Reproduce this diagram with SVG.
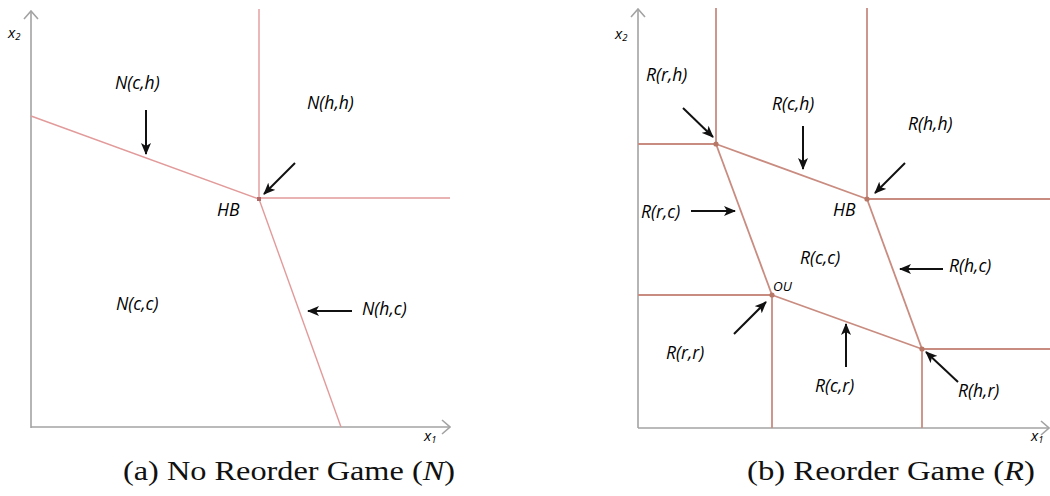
<svg xmlns="http://www.w3.org/2000/svg" width="1050" height="496" viewBox="0 0 1050 496">
<style>
.ax{stroke:#a3a3a3;stroke-width:1.6;fill:none}
.ra{stroke:#e29a9a;stroke-width:1.4;fill:none}
.rb{stroke:#c98c80;stroke-width:1.8;fill:none}
.ar{stroke:#111;stroke-width:2;fill:none;marker-end:url(#ah)}
.lb{font-family:"Open Sans","Liberation Sans",sans-serif;font-style:italic;font-size:17.5px;fill:#000}
.sm{font-family:"Open Sans","Liberation Sans",sans-serif;font-style:italic;font-size:13.5px;fill:#000}
.xl{font-family:"Open Sans","Liberation Sans",sans-serif;font-style:italic;font-size:15px;fill:#000}
.cap{font-family:"Liberation Serif","DejaVu Serif",serif;font-size:27px;fill:#111}
</style>
<defs>
<marker id="ah" viewBox="0 0 12 10" refX="11" refY="5" markerWidth="12" markerHeight="10" markerUnits="userSpaceOnUse" orient="auto">
<path d="M0,0 L12,5 L0,10 L3,5 Z" fill="#111"/>
</marker>
<marker id="ax" viewBox="0 0 10 16" refX="9" refY="8" markerWidth="10" markerHeight="16" markerUnits="userSpaceOnUse" orient="auto">
<path d="M1,1 L9,8 L1,15" stroke="#a3a3a3" stroke-width="1.6" fill="none"/>
</marker>
</defs>
<rect width="1050" height="496" fill="#fff"/>

<!-- Panel (a) -->
<g id="axes-a">
<line class="ax" x1="31" y1="428" x2="31" y2="11" marker-end="url(#ax)"/>
<line class="ax" x1="31" y1="427" x2="450" y2="427" marker-end="url(#ax)"/>
<text class="xl" x="8" y="38">x<tspan font-size="9.5" dy="2">2</tspan></text>
<text class="xl" x="424" y="441">x<tspan font-size="9.5" dy="2">1</tspan></text>
</g>
<g id="boundaries-a">
<line class="ra" x1="31" y1="116" x2="259" y2="199"/>
<line class="ra" x1="259" y1="9" x2="259" y2="199"/>
<line class="ra" x1="259" y1="198" x2="450" y2="198"/>
<line class="ra" x1="259" y1="199" x2="341" y2="427"/>
<rect x="257" y="197" width="4" height="4" fill="#b06a6a"/>
</g>
<g id="N-ch"><text class="lb" x="115" y="89">N(c,h)</text></g>
<g id="N-hh"><text class="lb" x="307" y="109">N(h,h)</text></g>
<g id="HB-a"><text class="lb" x="217" y="216">HB</text></g>
<g id="N-cc"><text class="lb" x="116" y="310">N(c,c)</text></g>
<g id="N-hc"><text class="lb" x="362" y="315">N(h,c)</text></g>
<g id="arrows-a">
<line class="ar" x1="146" y1="110" x2="146" y2="154"/>
<line class="ar" x1="295" y1="163" x2="264" y2="194"/>
<line class="ar" x1="352" y1="311" x2="308" y2="311"/>
</g>
<text class="cap" x="123" y="480" textLength="332" lengthAdjust="spacingAndGlyphs">(a) No Reorder Game (<tspan font-style="italic">N</tspan>)</text>

<!-- Panel (b) -->
<g id="axes-b">
<line class="ax" x1="638" y1="428" x2="638" y2="9" marker-end="url(#ax)"/>
<line class="ax" x1="638" y1="428" x2="1049" y2="428" marker-end="url(#ax)"/>
<text class="xl" x="615" y="39">x<tspan font-size="9.5" dy="2">2</tspan></text>
<text class="xl" x="1031" y="441">x<tspan font-size="9.5" dy="2">1</tspan></text>
</g>
<g id="boundaries-b">
<line class="rb" x1="716" y1="8" x2="716" y2="144"/>
<line class="rb" x1="638" y1="144" x2="716" y2="144"/>
<line class="rb" x1="867" y1="8" x2="867" y2="199"/>
<line class="rb" x1="867" y1="199" x2="1050" y2="199"/>
<line class="rb" x1="638" y1="295" x2="772" y2="295"/>
<line class="rb" x1="772" y1="295" x2="772" y2="428"/>
<line class="rb" x1="922" y1="349" x2="1050" y2="349"/>
<line class="rb" x1="922" y1="349" x2="922" y2="428"/>
<line class="rb" x1="716" y1="144" x2="867" y2="199"/>
<line class="rb" x1="716" y1="144" x2="772" y2="295"/>
<line class="rb" x1="772" y1="295" x2="922" y2="349"/>
<line class="rb" x1="867" y1="199" x2="922" y2="349"/>
<circle cx="716" cy="144" r="2.6" fill="#b87868"/>
<circle cx="867" cy="199" r="2.6" fill="#b87868"/>
<circle cx="772" cy="295" r="2.6" fill="#b87868"/>
<circle cx="922" cy="349" r="2.6" fill="#b87868"/>
</g>
<g id="R-rh"><text class="lb" x="646" y="81">R(r,h)</text></g>
<g id="R-ch"><text class="lb" x="772" y="110">R(c,h)</text></g>
<g id="R-hh"><text class="lb" x="908" y="130">R(h,h)</text></g>
<g id="R-rc"><text class="lb" x="641" y="218">R(r,c)</text></g>
<g id="HB-b"><text class="lb" x="833" y="216">HB</text></g>
<g id="R-cc"><text class="lb" x="800" y="264">R(c,c)</text></g>
<g id="R-hc"><text class="lb" x="949" y="272">R(h,c)</text></g>
<g id="OU"><text class="sm" x="773" y="291">OU</text></g>
<g id="R-rr"><text class="lb" x="666" y="359">R(r,r)</text></g>
<g id="R-cr"><text class="lb" x="815" y="392">R(c,r)</text></g>
<g id="R-hr"><text class="lb" x="958" y="397">R(h,r)</text></g>
<g id="arrows-b">
<line class="ar" x1="683" y1="108" x2="713" y2="137"/>
<line class="ar" x1="803" y1="126" x2="803" y2="169"/>
<line class="ar" x1="905" y1="163" x2="875" y2="193"/>
<line class="ar" x1="691" y1="211" x2="735" y2="211"/>
<line class="ar" x1="943" y1="269" x2="900" y2="269"/>
<line class="ar" x1="734" y1="334" x2="766" y2="302"/>
<line class="ar" x1="846" y1="367" x2="846" y2="324"/>
<line class="ar" x1="958" y1="382" x2="926" y2="352"/>
</g>
<text class="cap" x="747" y="480" textLength="288" lengthAdjust="spacingAndGlyphs">(b) Reorder Game (<tspan font-style="italic">R</tspan>)</text>
</svg>
